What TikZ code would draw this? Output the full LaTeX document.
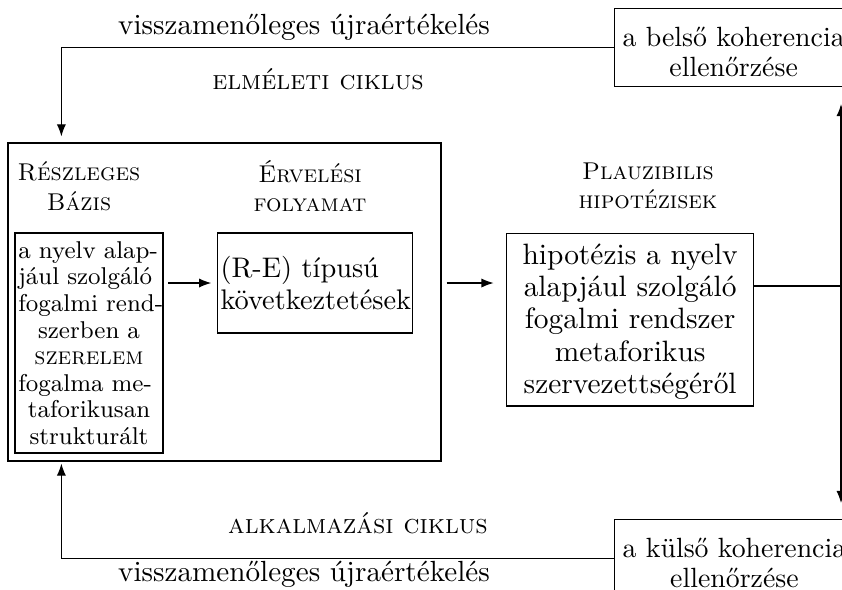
\documentclass[tikz,border=0pt]{standalone}
\usetikzlibrary{arrows.meta,calc}
% one drawing unit = 1/2.7 pt
\newcommand\pxl{*0.37037pt}
\begin{document}
\begin{tikzpicture}[x=0.37037pt,y=-0.37037pt,
  box/.style={draw, line width=0.45pt},
  note/.style={font=\fontsize{10.8}{13}\selectfont, inner sep=1pt},
  cyc/.style={font=\scshape, inner sep=1pt},
  lbl/.style={font=\small\scshape, align=center, inner sep=1pt},
  check/.style={box, align=center, anchor=north west, inner xsep=3pt, inner ysep=3.6pt,
    font=\fontsize{10.3}{10.8}\selectfont},
  arr/.style={-{Latex[length=4.5pt,width=3.4pt]}, line width=0.45pt},
  link/.style={line width=0.45pt}]
\useasboundingbox (0,0) rectangle (842,589);
\clip (0,0) rectangle (842,589);

% checks of coherence (both run off the right edge)
\node[check] (belso) at (614,8)
  {\rule{0pt}{10.6pt}a belső koherencia\\ellenőrzése};
\node[check] (kulso) at (614,519)
  {\rule{0pt}{10.6pt}a külső koherencia\\ellenőrzése};

% cycle labels
\node[note] (topnote) at (304,27) {visszamenőleges újraértékelés};
\node[cyc] (elm) at (318,79) {elméleti ciklus};
\node[cyc] (alk) at (358,523) {alkalmazási ciklus};
\node[note] (botnote) at (304,574) {visszamenőleges újraértékelés};

% frame around the basis and the reasoning
\node[box, minimum width=433\pxl, minimum height=318\pxl, inner sep=0pt] (big) at (224.5,302) {};

\node[lbl] (rbl) at (79,186) {Részleges\\Bázis};
\node[lbl] (erv) at (310,186) {Érvelési\\folyamat};
\node[lbl] (pla) at (648,186) {Plauzibilis\\hipotézisek};

% partial basis
\node[box, font=\fontsize{9}{9.85}\selectfont, align=center, text width=52.4pt,
      inner xsep=1.2pt, inner ysep=1.5pt, minimum height=220\pxl] (lb) at (89,343)
  {\makebox[\linewidth][s]{a nyelv alap-}\\
   \makebox[\linewidth][s]{jául szolgáló}\\
   \makebox[\linewidth][s]{fogalmi rend-}\\
   szerben a\\
   \textsc{szerelem}\\
   \makebox[\linewidth][s]{fogalma me-}\\
   taforikusan\\
   strukturált};

% reasoning
\node[box, font=\fontsize{10.5}{12}\selectfont, align=center, text width=70pt,
      inner sep=1pt, minimum height=100\pxl] (mb) at (315,283)
  {\makebox[\linewidth][s]{(R-E) típusú}\\következtetések};

% plausible hypotheses
\node[box, font=\fontsize{10.9}{11.9}\selectfont, align=center, text width=85.5pt,
      inner xsep=3pt, inner ysep=2.5pt, anchor=north west] (rbx) at (506,233)
  {\rule{0pt}{9pt}hipotézis a nyelv\\alapjául szolgáló\\fogalmi rendszer\\metaforikus\\szervezettségéről};

% connectors
\draw[arr, shorten <=1.8pt, shorten >=2.2pt] (lb.east |- mb.west) -- (mb.west);
\draw[arr, shorten <=1.85pt, shorten >=4.6pt] (big.east |- mb.west) -- (rbx.west |- mb.west);
\coordinate (junc) at (841,286);
\draw[link] (rbx.east |- junc) -- (junc);
\draw[arr, shorten >=6.4pt] (junc) -- (junc |- belso.south);
\draw[arr, shorten >=5.9pt] (junc) -- (junc |- kulso.north);
\draw[arr, shorten >=2.2pt] (belso.west) -| ($(big.north west)+(54,0)$);
\draw[arr, shorten >=0.7pt] (kulso.west) -| ($(big.south west)+(54,0)$);
\end{tikzpicture}
\end{document}
